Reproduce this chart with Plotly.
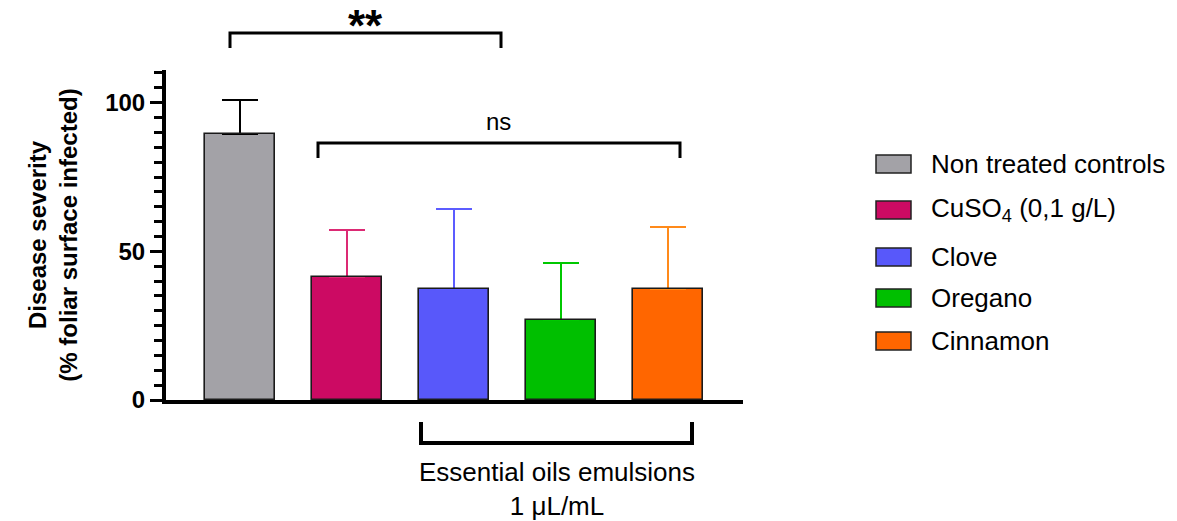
import plotly.graph_objects as go

# ---------------- data ----------------
categories = ["Non treated controls", "CuSO4 (0,1 g/L)", "Clove", "Oregano", "Cinnamon"]
legend_labels = ["Non treated controls", "CuSO<sub>4</sub> (0,1 g/L)", "Clove", "Oregano", "Cinnamon"]
severity = [89.5, 41.5, 37.2, 27.0, 37.2]
severity_sd = [11.3, 15.8, 26.9, 19.1, 21.0]
bar_colors = ["#a3a2a7", "#cc0a63", "#5858fa", "#00bf00", "#ff6600"]
err_colors = ["#000000", "#dc2a74", "#5c5cff", "#00c800", "#ff8a1a"]
y_ticks = [0, 50, 100]

FONT = "Liberation Sans, Arial, sans-serif"

W, H = 1177, 521
# plot area in window pixels
X0, X1, Y0, Y1 = 166, 743, 70, 400
L, T = X0, Y0
R, B = W - X1, H - Y1
PW, PH = X1 - X0, Y1 - Y0


def px(x):
    return (x - X0) / PW


def py(y):
    return (Y1 - y) / PH


fig = go.Figure()

for i, cat in enumerate(categories):
    fig.add_trace(go.Bar(
        x=[cat], y=[severity[i]], name=legend_labels[i],
        marker=dict(color=bar_colors[i], line=dict(width=0)),
        width=0.66,
        error_y=dict(type="data", array=[severity_sd[i]], arrayminus=[0],
                     symmetric=False, color=err_colors[i], thickness=2, width=18),
        showlegend=False,
    ))

# black outlines drawn over the bars
fig.add_trace(go.Bar(
    x=categories, y=severity, width=0.66,
    marker=dict(color="rgba(0,0,0,0)", line=dict(color="#1a1a1a", width=1.6)),
    showlegend=False, hoverinfo="skip",
))

shapes = []
annotations = []


def bracket(x1, x2, ybar, yend, width=3):
    return dict(type="path", xref="paper", yref="paper",
                path=f"M {px(x1)},{py(yend)} L {px(x1)},{py(ybar)} L {px(x2)},{py(ybar)} L {px(x2)},{py(yend)}",
                line=dict(color="black", width=width))


shapes.append(bracket(230, 501, 33, 48))
shapes.append(bracket(318, 680, 143, 158))
shapes.append(bracket(421, 692, 443, 422, width=4))

annotations.append(dict(xref="paper", yref="paper", x=px(365), y=py(0), text="<b>**</b>",
                        showarrow=False, font=dict(family=FONT, size=44, color="black"),
                        xanchor="center", yanchor="top", borderpad=0))
annotations.append(dict(xref="paper", yref="paper", x=px(498), y=py(121), text="ns",
                        showarrow=False, font=dict(family=FONT, size=24, color="black"),
                        xanchor="center", yanchor="middle"))
annotations.append(dict(xref="paper", yref="paper", x=px(557), y=py(489),
                        text="Essential oils emulsions<br>1 μL/mL",
                        showarrow=False, font=dict(family=FONT, size=26, color="black"),
                        xanchor="center", yanchor="middle"))

# manual legend
legend_rows = [164, 210, 257, 298, 341]
for i, lab in enumerate(legend_labels):
    yc = legend_rows[i]
    shapes.append(dict(type="rect", xref="paper", yref="paper",
                       x0=px(876), x1=px(911), y0=py(yc - 9), y1=py(yc + 9),
                       fillcolor=bar_colors[i], line=dict(color="#222", width=1.5)))
    annotations.append(dict(xref="paper", yref="paper", x=px(929), y=py(yc), text=lab,
                            showarrow=False, font=dict(family=FONT, size=26, color="black"),
                            xanchor="left", yanchor="middle"))

fig.update_layout(
    width=W, height=H,
    margin=dict(l=L, r=R, t=T, b=B),
    plot_bgcolor="white", paper_bgcolor="white",
    barmode="overlay",
    bargap=0,
    showlegend=False,
    hovermode=False,
    shapes=shapes,
    annotations=annotations,
    font=dict(family=FONT, color="black"),
    xaxis=dict(type="category", range=[-0.69, 4.70], showticklabels=False, ticks="",
               showgrid=False, zeroline=False, showline=True, linecolor="black", linewidth=4),
    yaxis=dict(range=[0, 111], tickvals=y_ticks, ticks="outside", ticklen=12, tickwidth=3,
               tickcolor="black", showgrid=False, zeroline=False, showline=True,
               linecolor="black", linewidth=4,
               tickfont=dict(family=FONT, size=24, weight="bold", color="black"),
               minor=dict(dtick=5, ticks="outside", ticklen=8, tickwidth=3, tickcolor="black", showgrid=False),
               title=dict(text="Disease severity<br>(% foliar surface infected)",
                          font=dict(family=FONT, size=24, weight="bold", color="black"),
                          standoff=22)),
)

# remove the default 8px page margin so the figure fills the window exactly
fig.write_html("out.html", config={"displayModeBar": False},
               post_script="document.body.style.margin='0';")
